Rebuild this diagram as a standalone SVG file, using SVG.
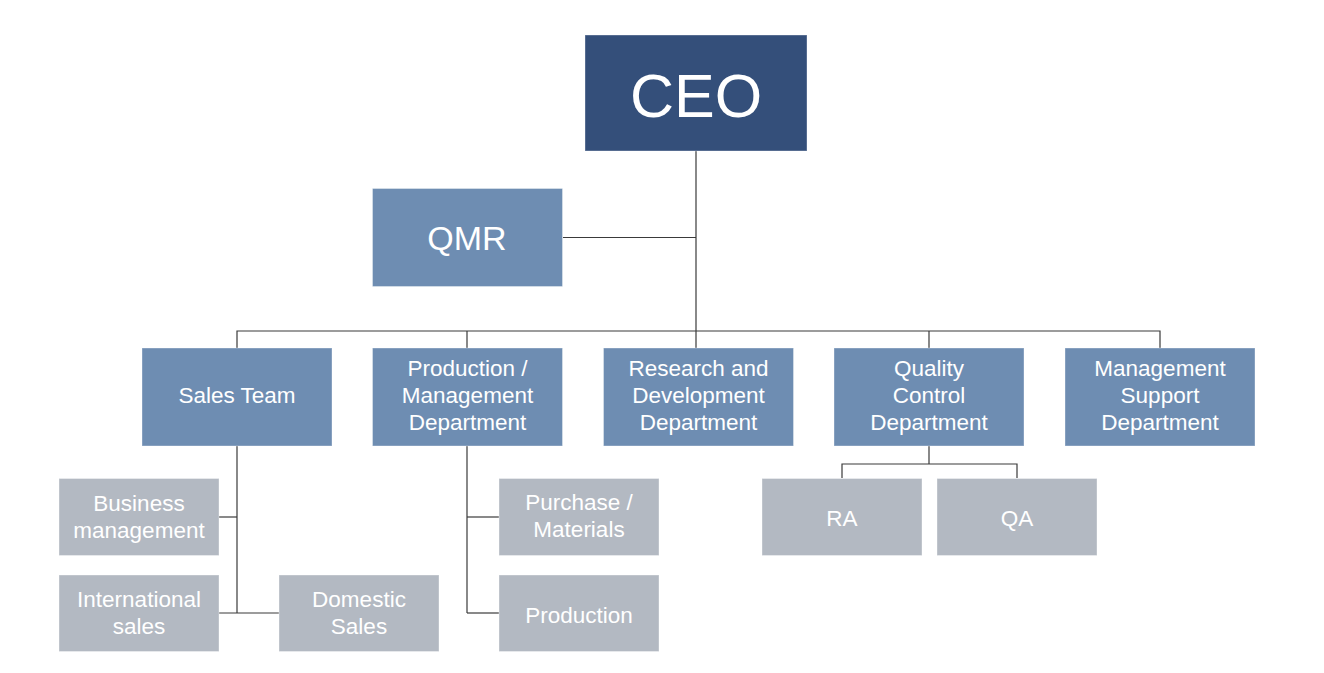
<svg xmlns="http://www.w3.org/2000/svg" width="1324" height="673" viewBox="0 0 1324 673">
<style>
.ceo{fill:#344F7A;}
.l2{fill:#6E8DB2;}
.l3{fill:#B3B9C2;}
.box{stroke:#ffffff;stroke-opacity:0.35;stroke-width:1;}
text{font-family:"Liberation Sans",Arial,sans-serif;fill:#ffffff;text-anchor:middle;}
.t{font-size:22.5px;}
.conn{stroke:#3a3a3a;stroke-width:1.2;fill:none;}
</style>
<rect width="1324" height="673" fill="#ffffff"/>
<g id="connectors" class="conn">
<path d="M696 151 V348"/>
<path d="M563 237.5 H696"/>
<path d="M237 348 V331 H1160 V348"/>
<path d="M467 331 V348"/>
<path d="M929 331 V348"/>
<path d="M237 446 V613"/>
<path d="M219 517 H237"/>
<path d="M219 613 H279"/>
<path d="M467 446 V613"/>
<path d="M467 517 H499"/>
<path d="M467 613 H499"/>
<path d="M929 446 V464"/>
<path d="M842 478 V464 H1017 V478"/>
</g>
<g id="ceo">
<rect class="ceo box" x="585" y="35" width="222" height="116"/>
<text x="696" y="117" style="font-size:61px">CEO</text>
</g>
<g id="qmr">
<rect class="l2 box" x="372.5" y="188.5" width="190" height="98"/>
<text x="467" y="250" style="font-size:34px">QMR</text>
</g>
<g id="sales-team">
<rect class="l2 box" x="142" y="348" width="190" height="98"/>
<text class="t" x="237" y="403">Sales Team</text>
</g>
<g id="production-management">
<rect class="l2 box" x="372.5" y="348" width="190" height="98"/>
<text class="t" x="467.5" y="376">Production /</text>
<text class="t" x="467.5" y="403">Management</text>
<text class="t" x="467.5" y="430">Department</text>
</g>
<g id="research-development">
<rect class="l2 box" x="603.5" y="348" width="190" height="98"/>
<text class="t" x="698.5" y="376">Research and</text>
<text class="t" x="698.5" y="403">Development</text>
<text class="t" x="698.5" y="430">Department</text>
</g>
<g id="quality-control">
<rect class="l2 box" x="834" y="348" width="190" height="98"/>
<text class="t" x="929" y="376">Quality</text>
<text class="t" x="929" y="403">Control</text>
<text class="t" x="929" y="430">Department</text>
</g>
<g id="management-support">
<rect class="l2 box" x="1065" y="348" width="190" height="98"/>
<text class="t" x="1160" y="376">Management</text>
<text class="t" x="1160" y="403">Support</text>
<text class="t" x="1160" y="430">Department</text>
</g>
<g id="business-management">
<rect class="l3 box" x="59" y="478.5" width="160" height="77"/>
<text class="t" x="139" y="510.5">Business</text>
<text class="t" x="139" y="537.5">management</text>
</g>
<g id="international-sales">
<rect class="l3 box" x="59" y="575" width="160" height="76.5"/>
<text class="t" x="139" y="607">International</text>
<text class="t" x="139" y="634">sales</text>
</g>
<g id="domestic-sales">
<rect class="l3 box" x="279" y="575" width="160" height="76.5"/>
<text class="t" x="359" y="607">Domestic</text>
<text class="t" x="359" y="634">Sales</text>
</g>
<g id="purchase-materials">
<rect class="l3 box" x="499" y="478.5" width="160" height="77"/>
<text class="t" x="579" y="510">Purchase /</text>
<text class="t" x="579" y="537">Materials</text>
</g>
<g id="production">
<rect class="l3 box" x="499" y="575" width="160" height="76.5"/>
<text class="t" x="579" y="622.5">Production</text>
</g>
<g id="ra">
<rect class="l3 box" x="762" y="478.5" width="160" height="77"/>
<text class="t" x="842" y="525.5">RA</text>
</g>
<g id="qa">
<rect class="l3 box" x="937" y="478.5" width="160" height="77"/>
<text class="t" x="1017" y="525.5">QA</text>
</g>
</svg>
